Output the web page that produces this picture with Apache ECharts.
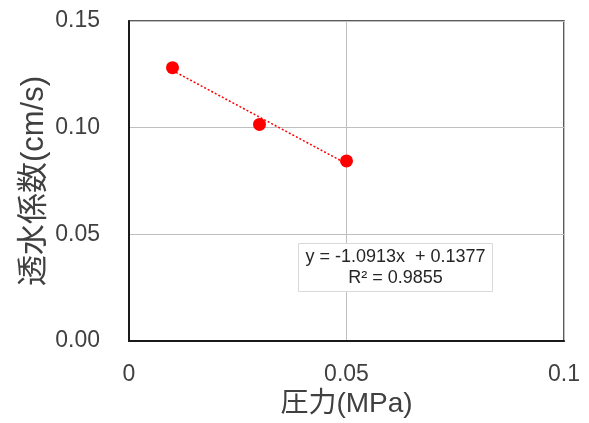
<!DOCTYPE html>
<html>
<head>
<meta charset="utf-8">
<script src="https://cdn.jsdelivr.net/npm/echarts@6/dist/echarts.min.js"></script>
<style>
  html, body { margin: 0; padding: 0; background: #fff; }
  #main { width: 589px; height: 423px; }
</style>
</head>
<body>
<div id="main"></div>
<script>
// measured points
var pressure = [0.01, 0.03, 0.05];
var permeability = [0.1281, 0.1015, 0.0844];
// linear trendline ends (from the fitted equation)
var trendX = [0.01, 0.05];
var trendY = [0.1268, 0.0831];
var xTicks = [0, 0.05, 0.1];
var yTicks = [0, 0.05, 0.10, 0.15];
var equationText = 'y = -1.0913x  + 0.1377';
var r2Text = 'R² = 0.9855';

var latin = '"Liberation Sans", Arial, "Noto Sans CJK JP", sans-serif';

var chart = echarts.init(document.getElementById('main'));
chart.setOption({
    backgroundColor: '#fff',
    animation: false,
    grid: {
        left: 129, right: 25, top: 21, bottom: 79,
        show: true,
        borderColor: '#262626',
        borderWidth: 1.5
    },
    xAxis: {
        type: 'value',
        min: xTicks[0],
        max: xTicks[xTicks.length - 1],
        interval: 0.05,
        name: '圧力(MPa)',
        nameLocation: 'middle',
        nameGap: 49,
        nameMoveOverlap: false,
        nameTextStyle: { fontFamily: latin, fontSize: 28, color: '#404040' },
        axisLine: { lineStyle: { color: '#1a1a1a', width: 2 } },
        axisTick: { show: false },
        axisLabel: {
            margin: 22,
            fontFamily: latin, fontSize: 23, color: '#404040',
            formatter: function (v) { return String(+v.toFixed(2)); }
        },
        splitLine: { lineStyle: { color: '#bfbfbf', width: 1 } }
    },
    yAxis: {
        type: 'value',
        min: yTicks[0],
        max: yTicks[yTicks.length - 1],
        interval: 0.05,
        name: '透水係数(cm/s)',
        nameLocation: 'middle',
        nameGap: 79,
        nameMoveOverlap: false,
        nameTextStyle: { fontFamily: latin, fontSize: 31, color: '#404040' },
        axisLine: { show: true, lineStyle: { color: '#1a1a1a', width: 2 } },
        axisTick: { show: false },
        axisLabel: {
            margin: 29,
            fontFamily: latin, fontSize: 23, color: '#404040',
            formatter: function (v) { return v.toFixed(2); }
        },
        splitLine: { lineStyle: { color: '#bfbfbf', width: 1 } }
    },
    series: [
        {
            type: 'line',
            data: trendX.map(function (x, i) { return [x, trendY[i]]; }),
            symbol: 'none',
            lineStyle: { color: '#ff0000', width: 1.5, type: [2, 2] },
            z: 2
        },
        {
            type: 'scatter',
            data: pressure.map(function (x, i) { return [x, permeability[i]]; }),
            symbol: 'circle',
            symbolSize: 13,
            itemStyle: { color: '#ff0000', opacity: 1 },
            z: 3
        }
    ],
    graphic: [{
        type: 'group',
        left: 298,
        top: 243,
        z: 100,
        children: [
            {
                type: 'rect',
                z: 100,
                shape: { x: 0, y: 0, width: 194, height: 48 },
                style: { fill: '#ffffff', stroke: '#d9d9d9', lineWidth: 1 }
            },
            {
                type: 'text',
                z: 101,
                x: 97,
                y: 24,
                style: {
                    text: equationText + '\n' + r2Text,
                    fontFamily: latin,
                    fontSize: 18,
                    lineHeight: 21,
                    fill: '#262626',
                    align: 'center',
                    verticalAlign: 'middle'
                }
            }
        ]
    }]
});
</script>
</body>
</html>
